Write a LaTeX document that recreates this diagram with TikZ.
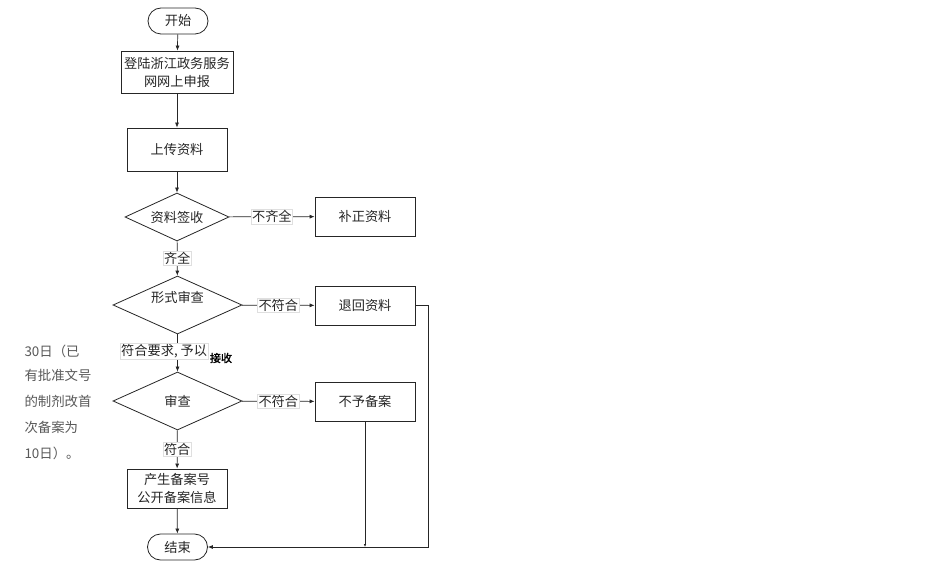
\documentclass[tikz,border=0pt]{standalone}
\usepackage{fontspec}
\setmainfont{Noto Sans CJK SC}
\newfontfamily\cjkbold[FakeBold=2]{Noto Sans CJK SC}
\usetikzlibrary{shapes.geometric,arrows.meta}
\begin{document}
\begin{tikzpicture}[x=1pt,y=-1pt, font=\fontsize{13.2}{18}\selectfont, text=black!85,
 box/.style={draw=black!85, line width=0.8pt, minimum width=100pt, inner sep=1pt, align=center},
 term/.style={draw=black!85, line width=0.8pt, rounded corners=13pt, minimum width=60pt, minimum height=26pt},
 dia/.style={draw=black!85, line width=0.8pt, diamond, aspect=2.2, inner sep=0pt},
 lab/.style={fill=white, draw=gray!25, inner sep=1pt, line width=0.4pt},
 arr/.style={-{Latex[length=5pt,width=4pt]}, line width=0.7pt, draw=black!85},
 side/.style={anchor=west, text=black!65, font=\fontsize{13.4}{15}\selectfont}
]
\useasboundingbox[fill=white] (0,0) rectangle (948,564);
\node[term] (start) at (178,21) {开始};
\node[box, minimum width=112pt, minimum height=42pt] (login) at (177,72) {登陆浙江政务服务\\网网上申报};
\node[box, minimum height=43pt] (upload) at (177,149.5) {上传资料};
\node[dia, minimum width=104pt, minimum height=48pt] (sign) at (177,217) {资料签收};
\node[box, minimum height=39pt] (fix) at (365,216.5) {补正资料};
\node[dia, minimum width=129pt, minimum height=58pt, label={[yshift=8pt]center:形式审查}] (form) at (177.5,305) {};
\node[box, minimum height=39pt] (ret) at (365,305.5) {退回资料};
\node[dia, minimum width=129pt, minimum height=58pt] (rev) at (177.5,401) {审查};
\node[box, minimum height=39pt] (no) at (365,401.5) {不予备案};
\node[box, minimum height=39pt] (pub) at (177,488.5) {产生备案号\\公开备案信息};
\node[term] (end) at (177.5,547) {结束};

\draw[arr] (start) -- (login);
\draw[arr] (login) -- (upload);
\draw[arr] (upload) -- (sign);
\draw[arr] (sign) -- node[lab]{不齐全} (fix);
\draw[arr] (sign) -- node[lab]{齐全} (form);
\draw[arr] (form) -- node[lab]{不符合} (ret);
\draw[arr] (form) -- (rev);
\node[lab, anchor=west] (acc) at (120,351) {符合要求, 予以\hspace{26pt}};
\node[font=\cjkbold\fontsize{11}{12}\selectfont, text=black] (acc2) at (221,358) {接收};
\draw[arr] (rev) -- node[lab]{不符合} (no);
\draw[arr] (rev) -- node[lab]{符合} (pub);
\draw[arr] (pub) -- (end);
\coordinate (c1) at (428,305.5);
\coordinate (c2) at (428,547);
\coordinate (c3) at (365,547);
\draw[arr] (ret.east) -- (c1) -- (c2) -- (end.east);
\draw[-{Latex[length=3pt,width=2.5pt]}, line width=0.7pt, draw=black!85] (no.south) -- (c3);

\node[side] (t1) at (21,351) {30日（已};
\node[side] (t2) at (21,375) {有批准文号};
\node[side] (t3) at (21,401) {的制剂改首};
\node[side] (t4) at (21,427) {次备案为};
\node[side] (t5) at (21,453) {10日）。};
\end{tikzpicture}
\end{document}
